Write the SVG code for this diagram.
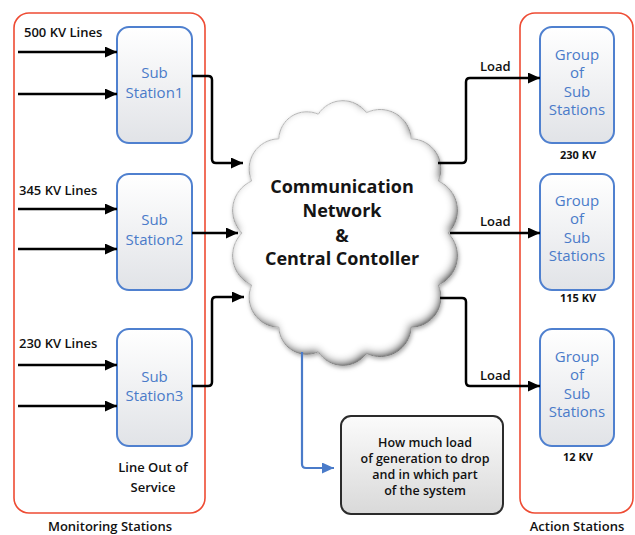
<svg xmlns="http://www.w3.org/2000/svg" width="635" height="535" viewBox="0 0 635 535">
  <defs>
    <style>
      .frame { fill: none; stroke: #ee4b33; stroke-width: 1.6; }
      .station { stroke: #4f80cf; stroke-width: 2; fill: url(#boxFill); }
      .stxt { font-family: "Open Sans", "Noto Sans", sans-serif; font-size: 15px; font-weight: 500; fill: #4a7bc9; text-anchor: middle; }
      .lbl { font-family: "Open Sans", "Noto Sans", sans-serif; font-size: 13px; font-weight: 600; fill: #111; }
      .ntxt { font-family: "Open Sans", "Noto Sans", sans-serif; font-size: 12.5px; font-weight: 600; fill: #111; text-anchor: middle; }
      .small { font-family: "Open Sans", "Noto Sans", sans-serif; font-size: 11px; font-weight: 700; fill: #111; text-anchor: middle; }
      .title { font-family: "Open Sans", "Noto Sans", sans-serif; font-size: 18px; font-weight: 700; fill: #151515; text-anchor: middle; }
      .wire { fill: none; stroke: #000; stroke-width: 2.5; stroke-linejoin: round; marker-end: url(#ah); }
      .bwire { fill: none; stroke: #4a7bc9; stroke-width: 2.2; stroke-linejoin: round; marker-end: url(#ahBlue); }
      .note { fill: url(#noteFill); stroke: #2b2b2b; stroke-width: 2; }
    </style>
    <linearGradient id="boxFill" x1="0" y1="0" x2="0" y2="1">
      <stop offset="0" stop-color="#ffffff"/>
      <stop offset="1" stop-color="#e1e3e7"/>
    </linearGradient>
    <linearGradient id="noteFill" x1="0" y1="0" x2="0" y2="1">
      <stop offset="0" stop-color="#fbfbfb"/>
      <stop offset="1" stop-color="#d9d9d9"/>
    </linearGradient>
    <marker id="ah" markerUnits="userSpaceOnUse" markerWidth="12" markerHeight="11" refX="12" refY="5.5" orient="auto">
      <path d="M0,0 L12,5.5 L0,11 z" fill="#000"/>
    </marker>
    <marker id="ahBlue" markerUnits="userSpaceOnUse" markerWidth="12" markerHeight="11" refX="12" refY="5.5" orient="auto">
      <path d="M0,0 L12,5.5 L0,11 z" fill="#4a7bc9"/>
    </marker>
    <!-- soft grey bevel round the inside edge of the cloud -->
    <filter id="cloudShade" x="-10%" y="-10%" width="120%" height="120%">
      <feGaussianBlur in="SourceAlpha" stdDeviation="4" result="blur"/>
      <feOffset in="blur" dx="-2" dy="-3" result="off"/>
      <feComposite in="SourceAlpha" in2="off" operator="arithmetic" k2="1.3" k3="-1.3" result="edge"/>
      <feFlood flood-color="#7a7a7a" result="grey"/>
      <feComposite in="grey" in2="edge" operator="in" result="shade"/>
      <feGaussianBlur in="SourceAlpha" stdDeviation="2" result="outer"/>
      <feOffset in="outer" dx="1" dy="2" result="outerOff"/>
      <feFlood flood-color="#a8a8a8" result="og"/>
      <feComposite in="og" in2="outerOff" operator="in" result="outerShadow"/>
      <feMerge>
        <feMergeNode in="outerShadow"/>
        <feMergeNode in="SourceGraphic"/>
        <feMergeNode in="shade"/>
      </feMerge>
    </filter>
  </defs>

  <rect width="635" height="535" fill="#ffffff"/>

  <!-- group frames -->
  <g id="monitoring-stations">
    <rect class="frame" x="14" y="13" width="191" height="500" rx="15"/>
    <text class="lbl" x="110" y="531" text-anchor="middle" font-size="13.5">Monitoring Stations</text>
  </g>
  <g id="action-stations">
    <rect class="frame" x="520" y="13" width="113" height="500" rx="15"/>
    <text class="lbl" x="577" y="531" text-anchor="middle" font-size="13.5">Action Stations</text>
  </g>

  <!-- central cloud -->
  <g id="central-controller">
    <path filter="url(#cloudShade)" fill="#ffffff" stroke="#c4c4c4" stroke-width="1"
      d="M448,233 A32,32 0 0 1 438.3,285 A30,30 0 0 1 411.2,327.2 A31,31 0 0 1 366.4,353.3 A29,29 0 0 1 318.3,351.8 A28,28 0 0 1 278.8,327.2 A30,30 0 0 1 251.7,285 A32,32 0 0 1 242,233 A32,32 0 0 1 251.7,181 A30,30 0 0 1 278.8,138.8 A28,28 0 0 1 318.3,114.2 A29,29 0 0 1 366.4,112.7 A31,31 0 0 1 411.2,138.8 A30,30 0 0 1 438.3,181 A32,32 0 0 1 448,233 Z"/>
    <text class="title" x="342" y="193">Communication</text>
    <text class="title" x="342" y="217">Network</text>
    <text class="title" x="342" y="242">&amp;</text>
    <text class="title" x="342" y="265">Central Contoller</text>
  </g>

  <!-- substations -->
  <g id="sub-station-1">
    <rect class="station" x="117" y="27" width="75" height="116" rx="12"/>
    <text class="stxt" x="154.5" y="78">Sub</text>
    <text class="stxt" x="154.5" y="98">Station1</text>
  </g>
  <g id="sub-station-2">
    <rect class="station" x="117" y="174" width="75" height="116" rx="12"/>
    <text class="stxt" x="154.5" y="225">Sub</text>
    <text class="stxt" x="154.5" y="245">Station2</text>
  </g>
  <g id="sub-station-3">
    <rect class="station" x="117" y="329" width="75" height="117" rx="12"/>
    <text class="stxt" x="154.5" y="382">Sub</text>
    <text class="stxt" x="154.5" y="401">Station3</text>
    <text class="lbl" x="153" y="472" text-anchor="middle" font-size="14">Line Out of</text>
    <text class="lbl" x="153" y="492" text-anchor="middle" font-size="14">Service</text>
  </g>

  <!-- substation groups -->
  <g id="group-230kv">
    <rect class="station" x="540" y="27" width="74" height="116" rx="12"/>
    <text class="stxt" x="577" y="60">Group</text>
    <text class="stxt" x="577" y="78">of</text>
    <text class="stxt" x="577" y="97">Sub</text>
    <text class="stxt" x="577" y="115">Stations</text>
    <text class="small" x="578" y="159">230 KV</text>
  </g>
  <g id="group-115kv">
    <rect class="station" x="540" y="174" width="74" height="116" rx="12"/>
    <text class="stxt" x="577" y="206">Group</text>
    <text class="stxt" x="577" y="224">of</text>
    <text class="stxt" x="577" y="243">Sub</text>
    <text class="stxt" x="577" y="261">Stations</text>
    <text class="small" x="578" y="302">115 KV</text>
  </g>
  <g id="group-12kv">
    <rect class="station" x="540" y="329" width="74" height="117" rx="12"/>
    <text class="stxt" x="577" y="362">Group</text>
    <text class="stxt" x="577" y="380">of</text>
    <text class="stxt" x="577" y="399">Sub</text>
    <text class="stxt" x="577" y="417">Stations</text>
    <text class="small" x="578" y="461">12 KV</text>
  </g>

  <!-- decision note -->
  <g id="load-shed-note">
    <rect class="note" x="341" y="416" width="162" height="98" rx="10"/>
    <text class="ntxt" x="425" y="447">How much load</text>
    <text class="ntxt" x="425" y="463">of generation to drop</text>
    <text class="ntxt" x="425" y="479">and in which part</text>
    <text class="ntxt" x="425" y="495">of the system</text>
  </g>

  <!-- connectors -->
  <g id="connectors">
    <text class="lbl" x="24" y="37">500 KV Lines</text>
    <path class="wire" d="M18,52 H117"/>
    <path class="wire" d="M18,94 H117"/>
    <text class="lbl" x="19" y="195">345 KV Lines</text>
    <path class="wire" d="M18,209 H117"/>
    <path class="wire" d="M18,249 H117"/>
    <text class="lbl" x="19" y="348">230 KV Lines</text>
    <path class="wire" d="M18,365 H117"/>
    <path class="wire" d="M18,406 H117"/>

    <path class="wire" d="M192,76 H208 Q212,76 212,80 V159 Q212,163 216,163 H243"/>
    <path class="wire" d="M192,233 H238"/>
    <path class="wire" d="M192,386 H208 Q212,386 212,382 V301 Q212,297 216,297 H244"/>

    <path class="wire" d="M438,163 H462 Q466,163 466,159 V82 Q466,78 470,78 H540"/>
    <text class="lbl" x="480" y="71">Load</text>
    <path class="wire" d="M450,233 H540"/>
    <text class="lbl" x="480" y="226">Load</text>
    <path class="wire" d="M440,298 H462 Q466,298 466,302 V382 Q466,386 470,386 H540"/>
    <text class="lbl" x="480" y="380">Load</text>

    <path class="bwire" d="M302,352 V464 Q302,468 306,468 H334"/>
  </g>
</svg>
